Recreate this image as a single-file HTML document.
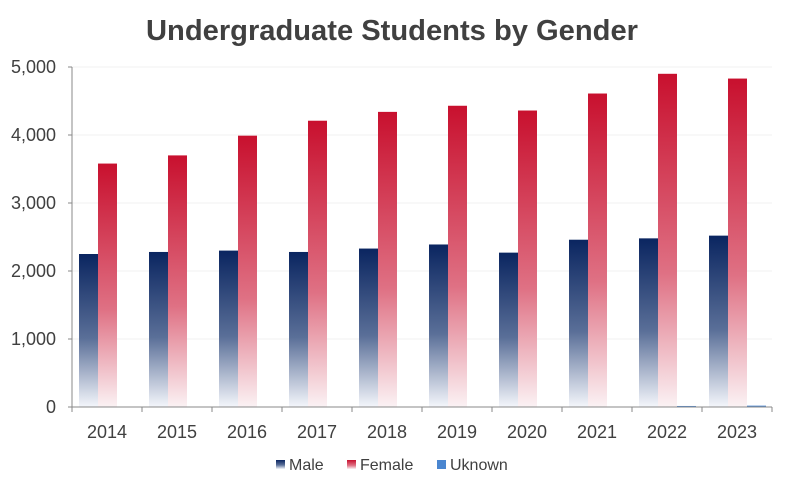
<!DOCTYPE html>
<html><head><meta charset="utf-8"><style>
html,body{margin:0;padding:0;background:#fff;}
svg{display:block;font-family:"Liberation Sans",sans-serif;}
</style></head><body>
<svg id="chart" width="785" height="488">
<defs>
<linearGradient id="gMale" x1="0" y1="0" x2="0" y2="1"><stop offset="0" stop-color="#0a2560"/><stop offset="0.55" stop-color="#5a6f98"/><stop offset="1" stop-color="#f4f6fb"/></linearGradient>
<linearGradient id="gFemale" x1="0" y1="0" x2="0" y2="1"><stop offset="0" stop-color="#c8102e"/><stop offset="0.6" stop-color="#df7184"/><stop offset="1" stop-color="#fbf2f4"/></linearGradient>
</defs>
<text x="392" y="40" text-anchor="middle" font-size="29" font-weight="bold" fill="#404040" textLength="492" lengthAdjust="spacingAndGlyphs">Undergraduate Students by Gender</text>
<g id="grid"></g><g id="bars"></g><g id="axes"></g>
<g>
<rect x="276" y="460" width="9" height="9" fill="url(#gMale)"/>
<text x="289" y="470" font-size="16" fill="#404040">Male</text>
<rect x="347" y="460" width="9" height="9" fill="url(#gFemale)"/>
<text x="360" y="470" font-size="16" fill="#404040">Female</text>
<rect x="437" y="460" width="9" height="9" fill="#4a86d0"/>
<text x="450" y="470" font-size="16" fill="#404040">Uknown</text>
</g>
</svg>
<script>
const categories=["2014","2015","2016","2017","2018","2019","2020","2021","2022","2023"];
const male=[2250,2280,2300,2280,2330,2390,2270,2460,2480,2520];
const female=[3580,3700,3990,4210,4340,4430,4360,4610,4900,4830];
const unknown=[0,0,0,0,0,0,0,0,15,20];
const yTicks=[0,1000,2000,3000,4000,5000];
const yTickLabels=["0","1,000","2,000","3,000","4,000","5,000"];
const NS="http://www.w3.org/2000/svg";
const x0=72,band=70,yBase=407,yTop=67,yMax=5000;
const y=v=>yBase-(v/yMax)*(yBase-yTop);
const xc=i=>x0+i*band;
function mk(tag,attrs,parent){const e=document.createElementNS(NS,tag);for(const k in attrs)e.setAttribute(k,attrs[k]);parent.appendChild(e);return e;}
const grid=document.getElementById('grid'),bars=document.getElementById('bars'),axes=document.getElementById('axes');
yTicks.forEach((t,i)=>{
 if(t>0){const l=mk('line',{x1:x0,x2:772,y1:y(t),y2:y(t),stroke:'#f0f0f0'},grid);
 
 }
 const tk=mk('line',{x1:x0-4,x2:x0,y1:y(t),y2:y(t),stroke:'#888'},axes);
 
 
 const tx=mk('text',{x:56,y:y(t)+6,'text-anchor':'end','font-size':18,fill:'#404040'},axes);
 tx.textContent=yTickLabels[i];
 
 
});
const bw=19;
categories.forEach((c,i)=>{
 const sx=xc(i)+7;
 const series=[[male,'url(#gMale)','bar-male'],[female,'url(#gFemale)','bar-female'],[unknown,'#4a86d0','bar-unknown']];
 series.forEach((s,j)=>{
  const v=s[0][i];
  const r=mk('rect',{x:sx+j*bw,y:y(v),width:bw,height:Math.max(0,yBase-y(v)),fill:s[1]},bars);
  
  
 });
 const tx=mk('text',{x:xc(i)+band/2,y:438,'text-anchor':'middle','font-size':18,fill:'#404040'},axes);
 tx.textContent=c;
 
 
});
for(let i=0;i<=categories.length;i++){
 const t=mk('line',{x1:xc(i),x2:xc(i),y1:yBase,y2:yBase+5,stroke:'#888'},axes);
 
 
}
const xa=mk('line',{x1:x0,x2:772,y1:yBase,y2:yBase,stroke:'#888'},axes);


const ya=mk('line',{x1:x0,x2:x0,y1:yTop,y2:yBase,stroke:'#888'},axes);


</script>
</body></html>
